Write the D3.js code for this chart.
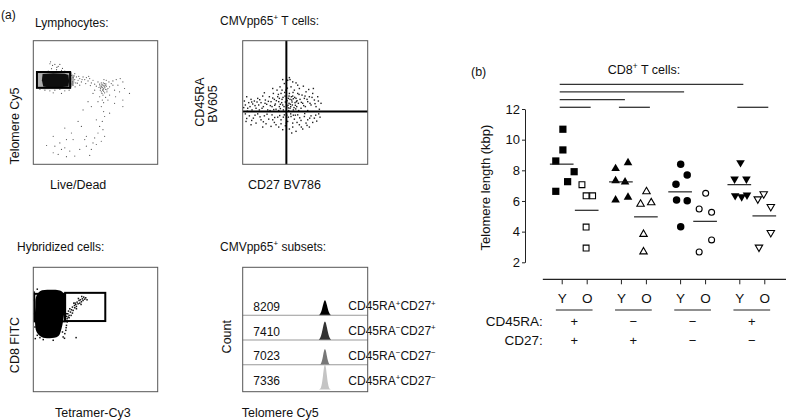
<!DOCTYPE html>
<html><head><meta charset="utf-8">
<script src="https://cdn.jsdelivr.net/npm/d3@7"></script>
<style>
body{margin:0;background:#fff}
svg{display:block;font-family:"Liberation Sans",Arial,Helvetica,sans-serif;fill:#111}
</style>
</head><body>
<svg id="c" width="787" height="420"></svg>
<script>
// ================= DATA =================
// Panel (b): telomere length (kbp) per subset, young (Y) and old (O) donors
const groups = ["RA+27+", "RA-27+", "RA-27-", "RA+27-"];
const ages = ["Y", "O"];
const cd45raSign = ["+", "\u2212", "\u2212", "+"];
const cd27Sign = ["+", "+", "\u2212", "\u2212"];
const telomereY = [
  [10.68, 9.33, 8.61, 7.91, 7.26, 6.63],
  [8.11, 8.50, 7.32, 7.24, 6.06, 6.24],
  [8.39, 7.69, 7.09, 6.06, 6.02, 4.32],
  [8.50, 7.43, 7.43, 6.35, 6.28, 6.39]
];
const telomereO = [
  [7.06, 6.34, 6.34, 4.30, 2.93],
  [6.61, 5.80, 5.89, 3.83, 2.69],
  [6.50, 5.48, 5.26, 3.46, 2.67],
  [6.46, 6.13, 5.63, 3.93, 2.98]
];
// horizontal dodge of points (in group units)
const dodgeY = [
  [0.02, 0.02, -0.10, 0.21, 0.10, -0.10],
  [-0.09, 0.12, -0.09, 0.07, -0.09, 0.12],
  [0.01, 0.12, -0.07, -0.06, 0.12, 0.01],
  [0.02, -0.08, 0.12, -0.07, 0.04, 0.13]
];
const dodgeO = [
  [-0.08, -0.01, 0.10, -0.01, -0.01],
  [0.01, -0.09, 0.09, -0.04, -0.04],
  [0.01, -0.10, 0.11, 0.11, -0.10],
  [-0.01, -0.11, 0.11, 0.11, -0.09]
];
const yTicks = [2, 4, 6, 8, 10, 12];
// significance comparisons: [group1, age1, group2, age2, tier]
const comparisons = [
  [0, "Y", 3, "Y", 3],
  [0, "Y", 2, "Y", 2],
  [0, "Y", 1, "Y", 1],
  [0, "Y", 0, "O", 0],
  [1, "Y", 1, "O", 0],
  [3, "Y", 3, "O", 0]
];

// Panel (a): flow cytometry events (arbitrary units, 0-375 per axis, y measured from top)
const lymphGate = [11, 95, 111, 143];
const lymphDense = [[13,98],[40,96],[75,95],[106,97],[122,104],[124,128],[112,146],[70,147],[30,147],[13,144],[11,120]];
const lymphCore = [[28,101],[60,99],[95,100],[106,104],[108,122],[106,139],[80,141],[45,141],[30,139],[26,120]];
const lymphEvents = [
 [50,70],[58,75],[65,72],[75,78],[80,72],[55,85],[70,88],[85,90],[95,92],[45,92],[30,95],[100,95],
 [20,148],[35,150],[50,152],[65,150],[80,148],[95,152],[108,150],[60,158],[85,160],[52,64],[71,81],[88,84],
 [115,105],[120,112],[125,118],[118,125],[130,110],[135,120],[140,115],[128,128],[145,125],[150,110],
 [155,118],[160,112],[165,122],[170,115],[175,128],[180,120],[185,132],[120,135],[140,135],[115,98],[125,100],
 [113,116],[117,131],[123,107],[133,129],[126,140],[137,108],[147,118],[158,130],[167,108],[172,136],
 [195,125],[200,132],[205,128],[210,135],[215,130],[220,138],[208,142],[212,146],[218,148],[202,150],
 [225,145],[230,140],[198,142],[190,138],[205,155],[215,158],[222,155],[210,165],[200,170],[218,172],
 [208,180],[212,188],[235,130],[240,122],[250,118],[262,115],[270,125],[255,135],[245,150],[260,155],
 [275,145],[290,160],[270,180],[248,170],[185,150],[180,160],[230,165],[225,180],[195,185],[240,135],
 [228,125],[213,118],[220,120],[206,138],[214,140],[209,150],[203,145],[217,135],[211,128],
 [207,133],[213,137],[216,143],[204,141],[210,147],[219,131],[201,137],[222,149],[212,153],[207,160],
 [205,200],[212,215],[215,230],[208,245],[200,260],[210,270],[195,280],[215,290],[185,295],[205,305],
 [190,315],[175,330],[170,348],[160,320],[180,310],[155,300],[135,245],[145,260],[120,300],[100,300],
 [95,265],[85,330],[60,290],[40,318],[75,345],[100,352],[125,350],[95,325],[80,310],[65,320],
 [110,335],[140,330],[160,290],[190,240],[230,220],[270,200],[245,190],[165,185],[175,200],[150,210],
 [60,340],[115,280]
];

const cd27Cut = 131, cd45raCut = 215;
const tetEvents = [
 [5,183],[12,170],[8,195],[18,188],[25,178],[22,200],[30,192],[35,183],[40,205],[45,175],[48,195],[55,188],
 [60,168],[62,200],[68,180],[72,193],[75,210],[80,170],[85,185],[88,200],[92,160],[95,178],[98,192],[100,208],
 [103,150],[105,170],[108,185],[110,200],[112,140],[115,160],[118,178],[120,195],[122,210],[125,130],[127,168],
 [128,186],[130,150],[132,200],[135,120],[137,175],[139,190],[140,160],[142,205],[145,140],[147,180],[149,195],
 [150,168],[152,210],[155,150],[157,188],[160,175],[162,200],[165,160],[167,190],[170,145],[172,178],[175,205],
 [178,165],[180,190],[185,175],[188,200],[190,155],[195,185],[200,170],[205,195],[210,160],[215,180],[220,200],
 [225,170],[235,190],[212,145],[198,148],[182,138],[160,128],[142,118],[118,150],[90,145],[65,158],[15,205],
 [28,210],[50,210],[82,212],[108,212],[138,212],[168,212],[195,212],[230,208],[140,112],[150,125],[120,118],[165,135],
 [8,222],[20,228],[32,235],[45,222],[55,240],[65,228],[78,238],[88,225],[95,248],[105,232],[115,240],[125,225],
 [135,245],[145,230],[155,238],[165,225],[175,242],[185,230],[195,240],[205,228],[215,235],[228,222],[10,245],
 [40,250],[70,252],[100,255],[128,258],[150,262],[170,255],[190,250],[210,248],[140,268],[160,275],[120,270],
 [232,232],[60,262],[25,255],[180,268],[200,262],[150,250],[115,252],[85,260],
 [142,178],[148,186],[136,196],[152,176],[158,196],[144,200],[133,182],[161,185],[154,203],[146,170],
 [110,175],[117,188],[101,182],[124,200],[96,196],[132,226],[144,222],[158,226],[122,232],
 [3,203],[14,214],[27,186],[37,197],[43,186],[51,179],[58,205],[67,190],[77,184],[83,197],[90,174],[93,209],
 [107,163],[113,193],[121,172],[126,157],[134,144],[139,168],[143,193],[151,157],[156,172],[163,182],[169,163],
 [176,187],[183,197],[187,168],[193,178],[202,190],[208,172],[217,191],[227,183],[113,206],[137,204],[159,207],
 [12,236],[37,226],[52,231],[73,223],[96,233],[111,227],[137,232],[152,226],[171,234],[186,221],[201,235],[219,226],
 [27,242],[62,246],[90,240],[131,250],[163,248],[193,257],[222,244],[108,262],[176,262],[147,280]
];

const cd8NegGate = [3, 80, 95, 163];
const tetPosGate = [96, 77, 217, 162];
const cd8Blob = [[20,72],[50,68],[80,70],[92,80],[95,100],[94,130],[90,160],[85,185],[75,208],[50,214],[25,210],[10,195],[5,160],[6,120],[8,90]];
const hybridEvents = [
 [100,175],[98,190],[95,200],[90,210],[88,195],[102,165],[12,205],[20,212],[5,180],[3,140],[96,120],[100,140],[105,150],
 [100,148],[104,140],[108,145],[106,132],[112,135],[115,128],[110,125],[118,120],[120,130],[124,115],[125,122],
 [128,112],[130,118],[132,105],[135,110],[138,100],[140,108],[142,98],[145,104],[148,95],[150,100],[152,90],
 [155,96],[158,92],[162,98],[118,138],[126,108],[136,94],[146,88],[102,155],[108,152],[114,145],[130,125],
 [122,108],[144,112],[129,212],[6,215],[30,218],[60,220],[94,214],[99,182],[2,100],[3,75],[12,66]
];

// Histograms of telomere probe (Cy5) per subset
const subsets = [["+","+"],["\u2212","+"],["\u2212","\u2212"],["+","\u2212"]];
const subsetMFI = [8209, 7410, 7023, 7336];
const histBins = [610, 618, 626, 634, 642, 650, 658, 666, 674, 682, 690, 698, 706];
const histCounts = [
  [4, 11, 29, 59, 99, 135, 150, 135, 99, 59, 29, 11, 4],
  [6, 17, 41, 78, 125, 168, 186, 168, 125, 78, 41, 17, 6],
  [0, 3, 13, 39, 85, 135, 157, 135, 85, 39, 13, 3, 0],
  [0, 5, 21, 62, 135, 214, 250, 214, 135, 62, 21, 5, 0]
];

// ================= STYLE / LAYOUT =================
const histColors = ["#000", "#333", "#777", "#c4c4c4"];
const svg = d3.select("#c");
const INK = "#111";

function addText(x, y, str, opts = {}) {
  const t = svg.append("text").attr("x", x).attr("y", y).attr("dy", "0.35em")
    .attr("font-size", opts.size || 12).attr("text-anchor", opts.anchor || "start").attr("fill", INK);
  if (str) t.text(str);
  if (opts.rotate) t.attr("transform", `rotate(-90,${x},${y})`);
  return t;
}
function richText(x, y, parts, opts = {}) {
  const t = addText(x, y, "", opts);
  const fs = opts.size || 12;
  parts.forEach(p => {
    if (typeof p === "string") t.append("tspan").text(p);
    else {
      t.append("tspan").attr("font-size", fs * 0.66).attr("dy", `${-fs * 0.4}px`).text(p.sup);
      t.append("tspan").attr("font-size", 1).attr("dy", `${fs * 0.4}px`).text("\u200a");
    }
  });
  return t;
}

// ---------- Panel (a) ----------
addText(1, 15, "(a)", {size: 12});

const boxes = {
  b1: {x: 33.3, y: 40.7, w: 124.4, h: 123.6},
  b2: {x: 242.7, y: 40.7, w: 125, h: 123.6},
  b3: {x: 33.3, y: 267.3, w: 124.4, h: 124.4},
  b4: {x: 242.7, y: 267.3, w: 125, h: 124.4}
};
function flowScales(b) {
  return {
    x: d3.scaleLinear().domain([0, 375]).range([b.x, b.x + b.w]),
    y: d3.scaleLinear().domain([0, 375]).range([b.y, b.y + b.h])
  };
}
function drawBox(b) {
  svg.append("rect").attr("x", b.x).attr("y", b.y).attr("width", b.w).attr("height", b.h)
    .attr("fill", "none").attr("stroke", "#555").attr("stroke-width", 1);
}
const smoothPoly = s => d3.line().x(d => s.x(d[0])).y(d => s.y(d[1])).curve(d3.curveCatmullRomClosed.alpha(0.5));
const linPoly = s => d3.line().x(d => s.x(d[0])).y(d => s.y(d[1])).curve(d3.curveLinearClosed);

// Box 1: Lymphocytes
{
  const b = boxes.b1, s = flowScales(b);
  const g = svg.append("g");
  g.append("path").attr("d", linPoly(s)(lymphDense)).attr("fill", "#777").attr("opacity", 0.6);
  g.append("path").attr("d", linPoly(s)(lymphCore)).attr("fill", "#000").attr("opacity", 0.92);
  g.selectAll("circle").data(lymphEvents).join("circle")
    .attr("cx", d => s.x(d[0])).attr("cy", d => s.y(d[1])).attr("r", 0.6).attr("fill", "#555");
  g.append("rect").attr("x", s.x(lymphGate[0])).attr("y", s.y(lymphGate[1]))
    .attr("width", s.x(lymphGate[2]) - s.x(lymphGate[0])).attr("height", s.y(lymphGate[3]) - s.y(lymphGate[1]))
    .attr("fill", "none").attr("stroke", "#000").attr("stroke-width", 2);
  drawBox(b);
  addText(35, 22.7, "Lymphocytes:");
  addText(15, 126, "Telomere Cy5", {anchor: "middle", rotate: true, size: 12.5});
  addText(50, 185, "Live/Dead", {size: 12.5});
}

// Box 2: CMVpp65+ T cells
{
  const b = boxes.b2, s = flowScales(b);
  const g = svg.append("g");
  g.selectAll("rect.ev").data(tetEvents).join("rect").attr("class", "ev")
    .attr("x", d => s.x(d[0]) - 0.7).attr("y", d => s.y(d[1]) - 0.7).attr("width", 1.4).attr("height", 1.4).attr("fill", "#222");
  g.append("line").attr("x1", s.x(cd27Cut)).attr("x2", s.x(cd27Cut)).attr("y1", b.y).attr("y2", b.y + b.h)
    .attr("stroke", "#000").attr("stroke-width", 2);
  g.append("line").attr("x1", b.x).attr("x2", b.x + b.w).attr("y1", s.y(cd45raCut)).attr("y2", s.y(cd45raCut))
    .attr("stroke", "#000").attr("stroke-width", 2);
  drawBox(b);
  richText(220, 21, ["CMVpp65", {sup: "+"}, " T cells:"]);
  addText(200, 102, "CD45RA", {anchor: "middle", rotate: true, size: 12.5});
  addText(212.5, 104, "BV605", {anchor: "middle", rotate: true, size: 12.5});
  addText(248, 185, "CD27 BV786", {size: 12.5});
}

// Box 3: Hybridized cells
{
  const b = boxes.b3, s = flowScales(b);
  const g = svg.append("g");
  g.append("path").attr("d", smoothPoly(s)(cd8Blob)).attr("fill", "#000");
  g.selectAll("rect.ev").data(hybridEvents).join("rect").attr("class", "ev")
    .attr("x", d => s.x(d[0]) - 0.75).attr("y", d => s.y(d[1]) - 0.75).attr("width", 1.5).attr("height", 1.5).attr("fill", "#111");
  [cd8NegGate, tetPosGate].forEach(gt => {
    g.append("rect").attr("x", s.x(gt[0])).attr("y", s.y(gt[1]))
      .attr("width", s.x(gt[2]) - s.x(gt[0])).attr("height", s.y(gt[3]) - s.y(gt[1]))
      .attr("fill", "none").attr("stroke", "#000").attr("stroke-width", 2);
  });
  drawBox(b);
  addText(17, 246.7, "Hybridized cells:");
  addText(15, 345, "CD8 FITC", {anchor: "middle", rotate: true, size: 12.5});
  addText(55, 412.7, "Tetramer-Cy3", {size: 12.5});
}

// Box 4: histograms
{
  const b = boxes.b4;
  const hx = d3.scaleLinear().domain([0, 1000]).range([b.x, b.x + b.w]);
  const rows = d3.scaleBand().domain(d3.range(subsets.length)).range([290.5, 389.5]).paddingInner(0);
  const hy = d3.scaleLinear().domain([0, 250]).range([0, 25]);
  const g = svg.append("g");
  subsets.forEach((sub, i) => {
    const base = rows(i) + rows.bandwidth();
    const area = d3.area().x((d, k) => hx(histBins[k])).y0(base).y1(d => base - hy(d)).curve(d3.curveMonotoneX);
    g.append("path").attr("d", area(histCounts[i])).attr("fill", histColors[i]);
    if (i < subsets.length - 1) {
      g.append("line").attr("x1", b.x).attr("x2", b.x + b.w).attr("y1", base).attr("y2", base)
        .attr("stroke", "#999").attr("stroke-width", 1);
    }
    addText(253.3, base - 8.5, String(subsetMFI[i]), {size: 12});
    richText(348.3, base - 9, ["CD45RA", {sup: sub[0]}, "CD27", {sup: sub[1]}], {size: 12});
  });
  drawBox(b);
  richText(220, 246.7, ["CMVpp65", {sup: "+"}, " subsets:"]);
  addText(227, 336.7, "Count", {anchor: "middle", rotate: true, size: 12.5});
  addText(241.7, 412.7, "Telomere Cy5", {size: 12.5});
}

// ---------- Panel (b) ----------
{
  const gx = d3.scaleLinear().domain([0, 4]).range([544.6, 781.4]);
  const ageOff = d3.scalePoint().domain(ages).range([-0.211, 0.211]);
  const pos = (gi, a, j = 0) => gx(gi + 0.5 + ageOff(a) + j);
  const y = d3.scaleLinear().domain([2, 12]).range([262.3, 109]);

  addText(471, 72, "(b)", {size: 12.5});
  richText(644, 70, ["CD8", {sup: "+"}, " T cells:"], {anchor: "middle", size: 12.5});
  addText(485, 187.5, "Telomere length (kbp)", {anchor: "middle", rotate: true, size: 13});

  // y axis
  const ya = svg.append("g").attr("transform", "translate(525,0)")
    .call(d3.axisLeft(y).tickValues(yTicks).tickSize(3).tickSizeOuter(0).tickPadding(2));
  ya.selectAll("text").attr("font-size", 13).attr("fill", INK).attr("font-family", null);
  ya.selectAll("line,path").attr("stroke", "#222");

  // bottom axis with Y/O categories
  const lanes = [];
  groups.forEach((g, gi) => ages.forEach(a => lanes.push({g: gi, a})));
  const laneScale = d3.scaleOrdinal().domain(lanes.map(d => d.g + d.a)).range(lanes.map(d => pos(d.g, d.a)));
  const xa = svg.append("g").attr("transform", "translate(0,279.3)")
    .call(d3.axisBottom(laneScale).tickSize(5).tickPadding(9).tickFormat(k => k.slice(-1)));
  xa.select(".domain").remove();
  xa.selectAll("text").attr("font-size", 13.5).attr("fill", INK).attr("font-family", null);
  xa.selectAll("line").attr("stroke", "#222");
  xa.append("line").attr("x1", gx(-0.03)).attr("x2", 786).attr("y1", 0).attr("y2", 0)
    .attr("stroke", "#222").attr("stroke-width", 1.2);

  // group underlines and marker rows
  groups.forEach((g, gi) => {
    svg.append("line").attr("x1", gx(gi + 0.5 - 0.31)).attr("x2", gx(gi + 0.5 + 0.31))
      .attr("y1", 310).attr("y2", 310).attr("stroke", "#222").attr("stroke-width", 1.1);
    addText(gx(gi + 0.5), 321.7, cd45raSign[gi], {anchor: "middle", size: 13});
    addText(gx(gi + 0.5), 340.7, cd27Sign[gi], {anchor: "middle", size: 13});
  });
  addText(542.7, 321.7, "CD45RA:", {anchor: "end", size: 13.5});
  addText(542.7, 340.7, "CD27:", {anchor: "end", size: 13.5});

  // significance bars
  const tierY = d3.scaleLinear().domain([0, 3]).range([107.3, 84.3]);
  svg.append("g").selectAll("line").data(comparisons).join("line")
    .attr("x1", d => pos(d[0], d[1]) - 2).attr("x2", d => pos(d[2], d[3]) + 4)
    .attr("y1", d => tierY(d[4])).attr("y2", d => tierY(d[4]))
    .attr("stroke", "#333").attr("stroke-width", 1.3);

  // points
  const shapes = [d3.symbolSquare, d3.symbolTriangle, d3.symbolCircle, d3.symbolTriangle];
  const rot = [0, 0, 0, 180];
  const fillSize = [52, 32, 44, 32];
  const openSize = [34, 24, 28, 24];
  const pts = svg.append("g");
  groups.forEach((g, gi) => {
    [[telomereY, dodgeY, "Y"], [telomereO, dodgeO, "O"]].forEach(([vals, dodge, a]) => {
      const filled = a === "Y";
      const sym = d3.symbol().type(shapes[gi]).size(filled ? fillSize[gi] : openSize[gi]);
      pts.selectAll(null).data(vals[gi]).join("path")
        .attr("d", sym)
        .attr("transform", (v, k) => `translate(${pos(gi, a, dodge[gi][k])},${y(v)}) rotate(${rot[gi]})`)
        .attr("fill", filled ? "#000" : "#fff")
        .attr("stroke", "#000").attr("stroke-width", filled ? 0 : 1.1);
      const m = d3.mean(vals[gi]);
      pts.append("line").attr("x1", pos(gi, a, -0.2)).attr("x2", pos(gi, a, 0.2))
        .attr("y1", y(m)).attr("y2", y(m)).attr("stroke", "#111").attr("stroke-width", 1.1);
    });
  });
}
</script>
</body></html>
